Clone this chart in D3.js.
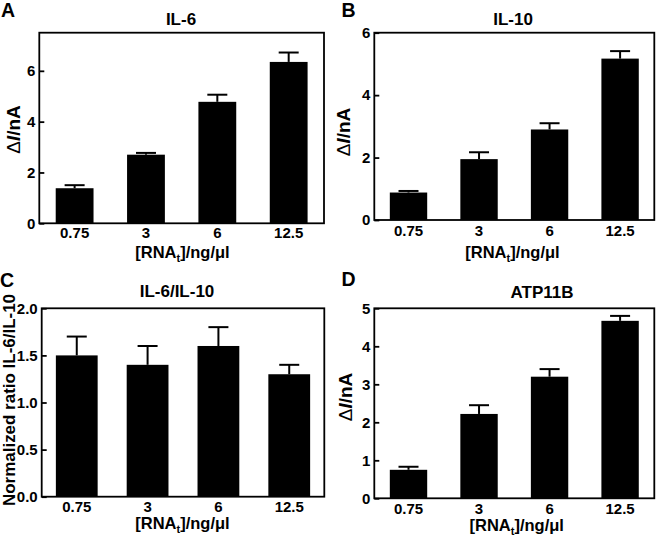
<!DOCTYPE html>
<html><head><meta charset="utf-8">
<script src="https://cdn.jsdelivr.net/npm/d3@7"></script>
<style>
body{margin:0;background:#fff;}
text{font-family:"Liberation Sans",Arial,sans-serif;font-weight:bold;fill:#000;}
</style></head>
<body><svg id="c" width="660" height="540"></svg>
<script>
const categories = ["0.75","3","6","12.5"];
const il6Values = [1.38, 2.70, 4.78, 6.35];
const il6Errors = [0.12, 0.07, 0.28, 0.37];
const il10Values = [0.88, 1.95, 2.90, 5.17];
const il10Errors = [0.05, 0.22, 0.20, 0.24];
const ratioValues = [1.5, 1.4, 1.6, 1.3];
const ratioErrors = [0.2, 0.2, 0.2, 0.1];
const atpValues = [0.75, 2.22, 3.20, 4.67];
const atpErrors = [0.08, 0.23, 0.20, 0.13];
const il6Ticks = [0,2,4,6];
const il10Ticks = [0,2,4,6];
const ratioTicks = [0,0.5,1.0,1.5,2.0];
const atpTicks = [0,1,2,3,4,5];

const panels = [
 {letter:"A", title:"IL-6", values:il6Values, errors:il6Errors, ticks:il6Ticks, max:7.5, fmt:d3.format("d"), ylab:"delta",
  x0:39.3, x1:324, y0:32.7, y1:223.3, pi:0.47, po:0.23,
  lx:1, ly:17, tx:181, ty:25, yx:20, yy:129.5, xx:182.5, xy:258, tb:238},
 {letter:"B", title:"IL-10", values:il10Values, errors:il10Errors, ticks:il10Ticks, max:6, fmt:d3.format("d"), ylab:"delta",
  x0:374.3, x1:654.3, y0:32.7, y1:220, pi:0.47, po:0.22,
  lx:341.5, ly:17, tx:513, ty:25, yx:350, yy:132, xx:512.5, xy:258, tb:236},
 {letter:"C", title:"IL-6/IL-10", values:ratioValues, errors:ratioErrors, ticks:ratioTicks, max:2, fmt:d3.format(".1f"), ylab:"ratio",
  x0:41.7, x1:324.3, y0:308.3, y1:496.7, pi:0.41, po:0.2,
  lx:0, ly:287, tx:177, ty:297, yx:14.5, yy:400, xx:182.5, xy:529, tb:512},
 {letter:"D", title:"ATP11B", values:atpValues, errors:atpErrors, ticks:atpTicks, max:5, fmt:d3.format("d"), ylab:"delta",
  x0:374.3, x1:654.3, y0:308.3, y1:498.3, pi:0.47, po:0.22,
  lx:341.5, ly:286, tx:542, ty:298, yx:351.5, yy:397, xx:516.7, xy:531, tb:514}
];

const svg = d3.select("#c");

panels.forEach(p => {
  const g = svg.append("g");
  const x = d3.scaleBand().domain(categories).range([p.x0, p.x1]).paddingInner(p.pi).paddingOuter(p.po);
  const y = d3.scaleLinear().domain([0, p.max]).range([p.y1, p.y0]);

  // bars
  g.selectAll("rect.bar").data(categories).enter().append("rect")
    .attr("x", d => x(d)).attr("width", x.bandwidth())
    .attr("y", (d,i) => y(p.values[i])).attr("height", (d,i) => p.y1 - y(p.values[i]))
    .attr("fill", "#000");
  // error bars
  const cap = 10;
  g.selectAll("line.ev").data(categories).enter().append("line")
    .attr("x1", d => x(d) + x.bandwidth()/2).attr("x2", d => x(d) + x.bandwidth()/2)
    .attr("y1", (d,i) => y(p.values[i])).attr("y2", (d,i) => y(p.values[i] + p.errors[i]))
    .attr("stroke", "#000").attr("stroke-width", 2);
  g.selectAll("line.ec").data(categories).enter().append("line")
    .attr("x1", d => x(d) + x.bandwidth()/2 - cap).attr("x2", d => x(d) + x.bandwidth()/2 + cap)
    .attr("y1", (d,i) => y(p.values[i] + p.errors[i])).attr("y2", (d,i) => y(p.values[i] + p.errors[i]))
    .attr("stroke", "#000").attr("stroke-width", 2);

  // frame
  g.append("rect").attr("x", p.x0).attr("y", p.y0).attr("width", p.x1 - p.x0).attr("height", p.y1 - p.y0)
    .attr("fill", "none").attr("stroke", "#000").attr("stroke-width", 1.8);

  // y axis
  const ya = g.append("g").attr("transform", `translate(${p.x0},0)`)
    .call(d3.axisLeft(y).tickValues(p.ticks).tickFormat(p.fmt).tickSizeInner(-5).tickSizeOuter(0).tickPadding(4));
  ya.select(".domain").remove();
  ya.attr("font-family", null).attr("font-size", null);
  ya.selectAll(".tick line").attr("stroke", "#000").attr("stroke-width", 1.8);
  ya.selectAll(".tick text").style("font-size", "15px");

  // x axis
  const xa = g.append("g").attr("transform", `translate(0,${p.y1})`)
    .call(d3.axisBottom(x).tickSize(0).tickPadding(0));
  xa.select(".domain").remove();
  xa.attr("font-family", null).attr("font-size", null);
  xa.selectAll(".tick text").attr("dy", null).attr("y", p.tb - p.y1).style("font-size", "15px");

  // letter
  svg.append("text").attr("x", p.lx).attr("y", p.ly).style("font-size", "19.5px").text(p.letter);
  // title
  svg.append("text").attr("x", p.tx).attr("y", p.ty).attr("text-anchor", "middle").style("font-size", "17px").text(p.title);
  // y label
  const yl = svg.append("text").attr("transform", `translate(${p.yx},${p.yy}) rotate(-90)`).attr("text-anchor", "middle");
  if (p.ylab === "delta") {
    yl.style("font-size", "19px");
    yl.append("tspan").style("font-weight", "normal").text("\u0394");
    yl.append("tspan").style("font-style", "italic").text("I");
    yl.append("tspan").text("/nA");
  } else {
    yl.style("font-size", "16.5px").attr("textLength", 212).attr("lengthAdjust", "spacingAndGlyphs").text("Normalized ratio IL-6/IL-10");
  }
  // x label
  const xl = svg.append("text").attr("x", p.xx).attr("y", p.xy).attr("text-anchor", "middle").style("font-size", "16.5px");
  xl.append("tspan").text("[RNA");
  xl.append("tspan").attr("dy", 4).style("font-size", "11px").text("t");
  xl.append("tspan").attr("dy", -4).text("]/ng/\u03bcl");
});
</script></body></html>
